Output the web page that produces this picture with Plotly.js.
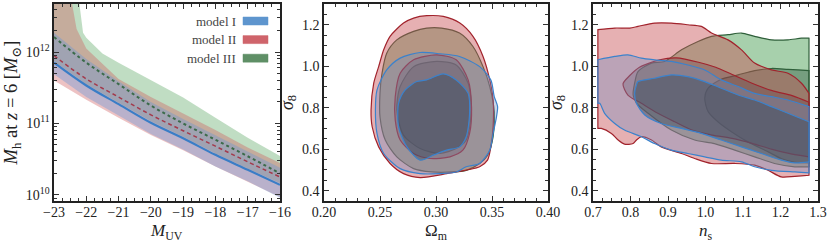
<!DOCTYPE html>
<html><head><meta charset="utf-8">
<script src="https://cdn.plot.ly/plotly-3.0.1.min.js"></script>
<style>html,body{margin:0;padding:0;background:#fff}#chart{width:831px;height:245px}</style>
</head><body><div id="chart"></div>
<script>
// ---------- Panel 1: halo mass vs M_UV ----------
const MUV = [-23, -22, -21, -20, -19, -18, -17, -16];
const MED_I   = [7.1e11, 3.4e11, 1.86e11, 1.02e11, 6.2e10, 3.63e10, 2.24e10, 1.38e10];
const MED_II  = [8.9e11, 4.2e11, 2.34e11, 1.32e11, 7.9e10, 4.8e10, 2.9e10, 1.78e10];
const MED_III = [1.62e12, 7.1e11, 3.55e11, 1.78e11, 1.0e11, 5.9e10, 3.47e10, 2.0e10];
const LO_I    = [4.9e11, 2.34e11, 1.29e11, 7.1e10, 4.3e10, 2.5e10, 1.55e10, 9.1e9];
const HI_I    = [1.86e12, 8.0e11, 3.9e11, 2.0e11, 1.15e11, 6.8e10, 4.0e10, 2.4e10];
const LO_II   = [4.0e11, 2.14e11, 1.2e11, 6.9e10, 4.2e10, 2.5e10, 1.51e10, 9.3e9];
const HI_II_X = [-23, -22.5, -22.45, -22.3, -22, -21, -20, -19, -18, -17, -16];
const HI_II   = [3.0e13, 1.0e13, 5.0e12, 2.1e12, 1.12e12, 4.2e11, 2.35e11, 1.38e11, 8.1e10, 4.6e10, 2.8e10];
const LO_III  = [7.4e11, 3.55e11, 1.95e11, 1.07e11, 6.5e10, 3.8e10, 2.34e10, 1.45e10];
const HI_III_X = [-23, -22.3, -22.22, -22.1, -22, -21.5, -21, -20, -19, -18, -17, -16];
const HI_III   = [3.0e13, 2.0e13, 5.0e12, 1.86e12, 1.58e12, 9.5e11, 7.1e11, 4.0e11, 2.3e11, 1.2e11, 6.3e10, 3.5e10];

// ---------- Panel 2: Omega_m vs sigma_8 (68/95% contours) ----------
const OM_II_95 = [0.2917,0.3065,0.3213,0.333,0.342,0.348,0.351,0.351,0.349,0.346,0.339,0.3095,0.2858,0.271,0.259,0.2488,0.243,0.242,0.2444,0.2488,0.2533,0.259,0.271,0.280];
const S8_II_95 = [1.2435,1.240,1.208,1.144,1.047,0.934,0.837,0.708,0.611,0.547,0.515,0.482,0.463,0.482,0.531,0.611,0.708,0.789,0.918,0.998,1.079,1.144,1.208,1.232];
const OM_II_68 = [0.28,0.3006,0.318,0.3287,0.3317,0.330,0.324,0.3124,0.2947,0.28,0.268,0.2636,0.2636,0.268];
const S8_II_68 = [1.031,1.055,1.031,0.934,0.805,0.676,0.595,0.563,0.555,0.579,0.644,0.740,0.853,0.966];
const OM_III_95 = [0.2917,0.305,0.321,0.333,0.342,0.348,0.352,0.351,0.346,0.339,0.327,0.315,0.296,0.28,0.265,0.2547,0.250,0.250,0.2518,0.256,0.265,0.28];
const S8_III_95 = [1.184,1.184,1.16,1.095,0.998,0.902,0.78,0.66,0.57,0.531,0.498,0.490,0.49,0.506,0.563,0.644,0.756,0.869,0.966,1.063,1.127,1.168];
const OM_III_68 = [0.3006,0.318,0.3287,0.3317,0.327,0.318,0.3035,0.2858,0.271,0.265,0.268,0.28];
const S8_III_68 = [1.023,1.006,0.918,0.789,0.644,0.603,0.579,0.603,0.668,0.789,0.902,0.998];
const OM_I_95 = [0.2858,0.3035,0.321,0.339,0.349,0.352,0.355,0.354,0.351,0.348,0.339,0.327,0.318,0.3035,0.2858,0.268,0.2533,0.2473,0.2459,0.2473,0.256,0.268];
const S8_I_95 = [1.066,1.06,1.047,0.998,0.934,0.853,0.805,0.756,0.676,0.595,0.531,0.515,0.490,0.482,0.482,0.506,0.579,0.676,0.789,0.885,0.982,1.039];
const OM_I_68 = [0.2917,0.3065,0.318,0.3287,0.330,0.327,0.321,0.3095,0.2976,0.2858,0.274,0.2666,0.2666,0.2725,0.2828];
const S8_I_68 = [0.934,0.963,0.934,0.869,0.772,0.660,0.611,0.595,0.571,0.547,0.611,0.708,0.821,0.886,0.926];

// ---------- Panel 3: n_s vs sigma_8 (68/95% contours) ----------
const NS_II_95 = [0.713,0.758,0.798,0.820,0.864,0.909,0.953,0.989,1.016,1.060,1.096,1.131,1.176,1.220,1.256,1.276,1.276,1.238,1.202,1.167,1.131,1.078,1.016,0.971,0.936,0.882,0.856,0.829,0.816,0.807,0.784,0.767,0.749,0.722,0.713];
const S8N_II_95 = [1.176,1.184,1.184,1.192,1.208,1.208,1.200,1.192,1.160,1.127,1.079,1.015,0.982,0.966,0.918,0.869,0.474,0.469,0.466,0.498,0.523,0.531,0.531,0.555,0.579,0.611,0.644,0.660,0.644,0.627,0.624,0.644,0.676,0.700,0.700];
const NS_II_68 = [0.780,0.798,0.824,0.878,0.922,0.984,1.027,1.071,1.124,1.178,1.231,1.276,1.276,1.231,1.178,1.124,1.071,1.018,0.964,0.918,0.873,0.829,0.793];
const S8N_II_68 = [0.915,0.955,0.995,1.031,1.040,1.018,0.995,0.960,0.918,0.882,0.858,0.826,0.563,0.576,0.599,0.628,0.652,0.668,0.692,0.732,0.773,0.821,0.861];
const NS_III_95 = [0.891,0.936,0.980,1.016,1.060,1.096,1.131,1.176,1.220,1.256,1.276,1.276,1.238,1.184,1.131,1.078,1.024,0.971,0.909,0.847,0.816,0.807,0.811,0.820,0.856];
const S8N_III_95 = [1.023,1.079,1.119,1.144,1.152,1.160,1.144,1.127,1.127,1.135,1.135,0.515,0.515,0.531,0.563,0.595,0.627,0.644,0.692,0.773,0.821,0.861,0.918,0.974,1.015];
const NS_III_68 = [0.998,1.007,1.042,1.087,1.131,1.176,1.220,1.276,1.276,1.238,1.202,1.167,1.113,1.069,1.033,1.007];
const S8N_III_68 = [0.845,0.894,0.937,0.958,0.979,0.989,0.985,0.979,0.534,0.537,0.555,0.587,0.635,0.684,0.732,0.781];
const NS_I_95 = [0.713,0.758,0.793,0.829,0.864,0.909,0.953,0.998,1.042,1.087,1.131,1.176,1.220,1.276,1.276,1.238,1.176,1.131,1.096,1.042,0.998,0.953,0.909,0.864,0.829,0.784,0.758,0.731,0.718,0.713];
const S8N_I_95 = [1.031,1.047,1.055,1.039,1.031,1.023,1.006,0.982,0.934,0.902,0.869,0.853,0.837,0.805,0.486,0.490,0.498,0.515,0.539,0.547,0.563,0.579,0.595,0.627,0.660,0.692,0.724,0.773,0.821,0.821];
const NS_I_68 = [0.820,0.864,0.909,0.953,0.998,1.042,1.087,1.131,1.176,1.220,1.276,1.276,1.238,1.202,1.149,1.096,1.042,0.989,0.936,0.882,0.838,0.816,0.811,0.816];
const S8N_I_68 = [0.926,0.942,0.958,0.950,0.926,0.894,0.861,0.837,0.805,0.773,0.732,0.539,0.534,0.547,0.579,0.611,0.644,0.676,0.700,0.724,0.765,0.821,0.869,0.910];
const NS_PRIOR = [0.713, 1.276];   // n_s edges where the contours are cut by the prior

const LEGEND_LABELS = ['model I', 'model II', 'model III'];
const LEGEND_COLORS = ['#5e95ce', '#cf646b', '#5f8f66'];
const X_TITLES = ['<i>M</i><sub>UV</sub>', 'Ω<sub>m</sub>', '<i>n</i><sub>s</sub>'];

// ---------- styling ----------
const FONT = 'Liberation Serif, DejaVu Serif, serif';
const C = {
  I:   {line:'#3b82cc', f95:'rgba(110,140,190,0.36)', f68:'rgba(50,68,88,0.42)', band:'rgba(100,150,215,0.38)', med:'#3a7dc6'},
  II:  {line:'#a1232c', f95:'rgba(200,80,85,0.45)',  f68:'rgba(100,60,70,0.32)', band:'rgba(205,85,90,0.36)', med:'#a33a4c'},
  III: {line:'#2f5f3a', f95:'rgba(60,150,70,0.45)',  f68:'rgba(40,75,55,0.38)', band:'rgba(80,160,90,0.36)', med:'#3b6b4a'}
};

function band(x, lo, hix, hi, color) {
  return {x: hix.concat(x.slice().reverse()), y: hi.concat(lo.slice().reverse()),
    type:'scatter', mode:'lines', fill:'toself', fillcolor: color, line:{width:0},
    hoverinfo:'skip', showlegend:false, xaxis:'x', yaxis:'y'};
}
// points lying on a prior edge are doubled so the library's spline keeps a sharp corner there
function contour(x, y, fill, line, ax, edges) {
  const xs = [], ys = [];
  x.forEach((v, i) => {
    xs.push(v); ys.push(y[i]);
    if (edges && (v <= edges[0] || v >= edges[1])) { xs.push(v); ys.push(y[i]); }
  });
  xs.push(xs[0]); ys.push(ys[0]);
  return {x: xs, y: ys, type:'scatter', mode:'lines',
    fill:'toself', fillcolor: fill, line:{color: line, width:1.2, shape:'spline', smoothing:0.75, simplify:false},
    hoverinfo:'skip', showlegend:false, xaxis:'x'+ax, yaxis:'y'+ax};
}

const traces = [
  band(MUV, LO_III, HI_III_X, HI_III, C.III.band),
  band(MUV, LO_II, HI_II_X, HI_II, C.II.band),
  band(MUV, LO_I, MUV, HI_I, C.I.band),
  {x: MUV, y: MED_III, type:'scatter', mode:'lines', line:{color:C.III.med, width:2, dash:'dot', shape:'spline'}, showlegend:false, hoverinfo:'skip'},
  {x: MUV, y: MED_II, type:'scatter', mode:'lines', line:{color:C.II.med, width:1.5, dash:'4px,3px', shape:'spline'}, showlegend:false, hoverinfo:'skip'},
  {x: MUV, y: MED_I, type:'scatter', mode:'lines', line:{color:C.I.med, width:2.2, shape:'spline'}, showlegend:false, hoverinfo:'skip'},

  contour(OM_III_95, S8_III_95, C.III.f95, C.III.line, '2'),
  contour(OM_III_68, S8_III_68, C.III.f68, C.III.line, '2'),
  contour(OM_II_95, S8_II_95, C.II.f95, C.II.line, '2'),
  contour(OM_II_68, S8_II_68, C.II.f68, C.II.line, '2'),
  contour(OM_I_95, S8_I_95, C.I.f95, C.I.line, '2'),
  contour(OM_I_68, S8_I_68, C.I.f68, C.I.line, '2'),

  contour(NS_III_95, S8N_III_95, C.III.f95, C.III.line, '3', NS_PRIOR),
  contour(NS_III_68, S8N_III_68, C.III.f68, C.III.line, '3', NS_PRIOR),
  contour(NS_II_95, S8N_II_95, C.II.f95, C.II.line, '3', NS_PRIOR),
  contour(NS_II_68, S8N_II_68, C.II.f68, C.II.line, '3', NS_PRIOR),
  contour(NS_I_95, S8N_I_95, C.I.f95, C.I.line, '3', NS_PRIOR),
  contour(NS_I_68, S8N_I_68, C.I.f68, C.I.line, '3', NS_PRIOR)
];

const W = 831, H = 245;
const yDom = [1 - 201/H, 1 - 4/H];
function axis(extra) {
  return Object.assign({
    showline:true, linecolor:'#222', linewidth:1.6, mirror:'ticks',
    ticks:'inside', ticklen:5, tickwidth:1, tickcolor:'#333',
    showgrid:false, zeroline:false,
    tickfont:{family:FONT, size:14, color:'#222'}
  }, extra);
}
const minorLog = [];
[9, 10, 11, 12].forEach(d => { for (let k = 2; k <= 9; k++) minorLog.push(k * Math.pow(10, d)); });
const minorStyle = (o) => Object.assign({ticks:'inside', ticklen:3, tickcolor:'#333'}, o);
const yTitle = (t, s) => ({text:t, standoff:s, font:{family:FONT, size:18, color:'#222'}});

const xDoms = [[54/W, 280/W], [324/W, 548/W], [593/W, 818/W]];
const layout = {
  width: W, height: H, margin:{l:0, r:0, t:0, b:0},
  paper_bgcolor:'#fff', plot_bgcolor:'#fff', showlegend:false,
  xaxis: axis({domain:xDoms[0], range:[-23, -16], dtick:1, anchor:'y', ticklabelstandoff:-2, minor:minorStyle({dtick:0.25})}),
  yaxis: axis({domain:yDom, type:'log', range:[Math.log10(8.2e9), Math.log10(4.7e12)], anchor:'x',
    tickmode:'array', tickvals:[1e10, 1e11, 1e12], ticktext:['10<sup>10</sup>','10<sup>11</sup>','10<sup>12</sup>'],
    minor:minorStyle({tickmode:'array', tickvals:minorLog}),
    title:{text:'<i>M</i><sub>h</sub> at <i>z</i> = 6 [<i>M</i><sub>⊙</sub>]', standoff:3, font:{family:FONT, size:18.5, color:'#222'}}}),
  xaxis2: axis({domain:xDoms[1], range:[0.2, 0.4], dtick:0.05, tickformat:'.2f', anchor:'y2', ticklabelstandoff:-2, minor:minorStyle({dtick:0.01})}),
  yaxis2: axis({domain:yDom, range:[0.35, 1.30], dtick:0.2, tick0:0.4, tickformat:'.1f', anchor:'x2',
    minor:minorStyle({dtick:0.05}), title:yTitle('<i>σ</i><sub>8</sub>', 4)}),
  xaxis3: axis({domain:xDoms[2], range:[0.7, 1.3], dtick:0.1, tickformat:'.1f', anchor:'y3', ticklabelstandoff:-2, minor:minorStyle({dtick:0.025})}),
  yaxis3: axis({domain:yDom, range:[0.35, 1.30], dtick:0.2, tick0:0.4, tickformat:'.1f', anchor:'x3',
    minor:minorStyle({dtick:0.05}), title:yTitle('<i>σ</i><sub>8</sub>', 4)}),
  annotations: [], shapes: []
};

// x-axis titles placed as annotations just under the tick labels
X_TITLES.forEach((t, i) => {
  layout.annotations.push({xref:'paper', yref:'paper', x:(xDoms[i][0] + xDoms[i][1]) / 2, y:1 - 232/H,
    xanchor:'center', yanchor:'middle', borderpad:0, text:t, showarrow:false, font:{family:FONT, size:17, color:'#222'}});
});

// legend (label left of swatch), in panel-1 domain coordinates
const legTop = (201 - 21) / 197, legStep = 18.6 / 197, swH = 4 / 197;
LEGEND_LABELS.forEach((lab, i) => {
  const yc = legTop - i * legStep;
  layout.annotations.push({xref:'x domain', yref:'y domain', x:(238-54)/226, y:yc, xanchor:'right', yanchor:'middle',
    text: lab, showarrow:false, font:{family:FONT, size:13, color:'#444'}});
  layout.shapes.push({type:'rect', xref:'x domain', yref:'y domain', x0:(243-54)/226, x1:(268-54)/226,
    y0:yc - swH, y1:yc + swH, fillcolor:LEGEND_COLORS[i], line:{color:LEGEND_COLORS[i], width:0.5}});
});

Plotly.newPlot('chart', traces, layout, {staticPlot:true, displayModeBar:false});
</script></body></html>
